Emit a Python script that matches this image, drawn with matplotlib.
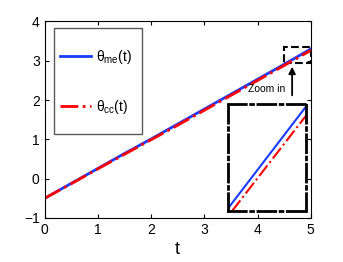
import matplotlib.pyplot as plt
from matplotlib.patches import Rectangle

plt.rcParams['font.family'] = ['Liberation Sans Narrow', 'Liberation Sans', 'DejaVu Sans']
plt.rcParams['mathtext.default'] = 'regular'

# Data
t = [0, 0.5, 1, 1.5, 2, 2.5, 3, 3.5, 4, 4.5, 5]
theta_me = [-0.50, -0.12, 0.26, 0.64, 1.01, 1.39, 1.77, 2.15, 2.53, 2.91, 3.30]
theta_cc = [-0.50, -0.13, 0.25, 0.62, 0.99, 1.36, 1.74, 2.12, 2.50, 2.88, 3.265]
xticks = [0, 1, 2, 3, 4, 5]
yticks = [-1, 0, 1, 2, 3, 4]

fig = plt.figure(figsize=(3.43, 2.62), dpi=100)
ax = fig.add_axes([0.130, 0.168, 0.776, 0.750])

ax.plot(t, theta_me, color='#1a3cff', lw=2, label=r'θ$_{me}$(t)')
ax.plot(t, theta_cc, color='red', lw=2, ls='-.', label=r'θ$_{cc}$(t)')

ax.set_xlim(0, 5)
ax.set_ylim(-1, 4)
ax.set_xticks(xticks)
ax.set_yticks(yticks)
ax.tick_params(direction='in', length=3, top=True, right=True, labelsize=10)
ax.set_xlabel('t', fontsize=13, labelpad=3)

# legend without its own frame, frame drawn as a rectangle
leg = ax.legend(loc='upper left', bbox_to_anchor=(0.058, 0.865), fontsize=10,
                labelspacing=2.3, borderpad=0, borderaxespad=0, handlelength=2.2,
                handletextpad=0.4, frameon=False)
ax.add_patch(Rectangle((0.036, 0.427), 0.331, 0.54, transform=ax.transAxes,
                       fill=False, ec='0.35', lw=1, zorder=5))

# zoom rectangle + arrow
ax.add_patch(Rectangle((4.5, 2.94), 0.5, 0.40, fill=False, ec='black', lw=1.5, ls='--'))
ax.annotate('', xy=(4.65, 2.92), xytext=(4.65, 2.05),
            arrowprops=dict(arrowstyle='-|>', color='black', lw=1.3, mutation_scale=10))
ax.text(4.18, 2.28, 'Zoom in', fontsize=7.5, ha='center', va='center')

# inset
axin = fig.add_axes([0.665, 0.195, 0.227, 0.408])
axin.plot(t, theta_me, color='#1a3cff', lw=1.5)
axin.plot(t, theta_cc, color='red', lw=1.5, ls='-.')
axin.set_xlim(4.5, 5.0)
axin.set_ylim(2.90, 3.31)
axin.set_xticks([])
axin.set_yticks([])
for s in axin.spines.values():
    s.set_linestyle('-.')
    s.set_linewidth(2)

fig.savefig('out.png', dpi=100)
